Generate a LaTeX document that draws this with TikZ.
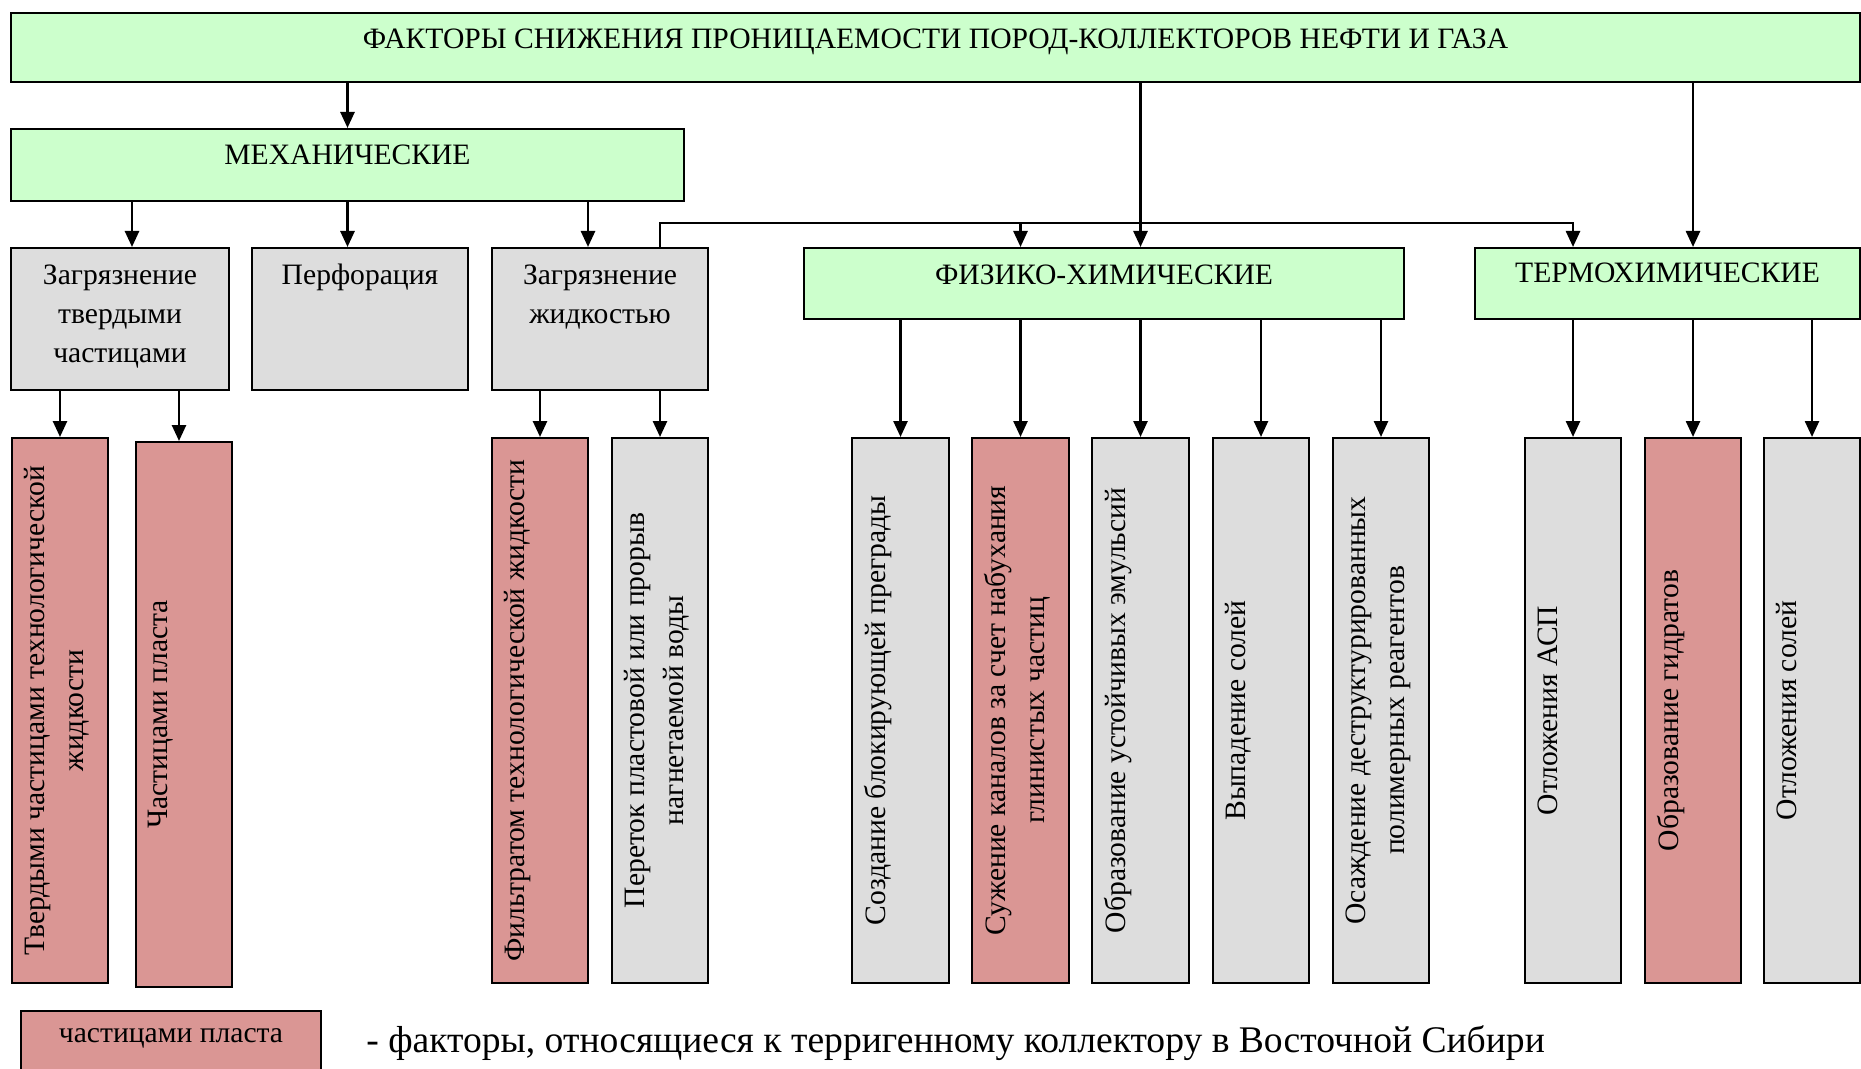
\documentclass[tikz,border=0pt]{standalone}
\usepackage{fontspec}
\setmainfont{Liberation Serif}
\usetikzlibrary{arrows.meta}
\definecolor{grn}{HTML}{CCFFCC}
\definecolor{gry}{HTML}{DDDDDD}
\definecolor{pnk}{HTML}{DA9694}
\tikzset{
  bx/.style={draw=black, line width=1pt, inner sep=0pt},
  gbox/.style={bx, fill=grn},
  ybox/.style={bx, fill=gry},
  rbox/.style={bx, fill=pnk},
  txt/.style={inner sep=0pt, align=center, font=\fontsize{14.8}{19.6}\selectfont},
  vtxt/.style={txt, rotate=90, anchor=north},
  htxt/.style={txt, anchor=north},
  arr/.style={line width=1.3pt, -{Triangle[width=7pt,length=8pt]}},
}
\newcommand\mkbox[6]{\node[#6, anchor=north west, minimum width={(#4-#2)*0.5pt}, minimum height={(#5-#3)*0.5pt}] (#1) at (#2,#3) {};}
\begin{document}
\begin{tikzpicture}[x=0.5pt, y=-0.5pt]
\useasboundingbox (0,0) rectangle (1861,1069);
\fill[white] (0,0) rectangle (1861,1069);
% boxes
\mkbox{top}{10}{12}{1859}{81}{gbox}
\mkbox{mech}{10}{128}{683}{200}{gbox}
\mkbox{zag1}{10}{247}{228}{389}{ybox}
\mkbox{perf}{251}{247}{467}{389}{ybox}
\mkbox{zag2}{491}{247}{707}{389}{ybox}
\mkbox{phys}{803}{247}{1403}{318}{gbox}
\mkbox{termo}{1474}{247}{1859}{318}{gbox}
\mkbox{b1}{11}{437}{107}{982}{rbox}
\mkbox{b2}{135}{441}{231}{986}{rbox}
\mkbox{b3}{491}{437}{587}{982}{rbox}
\mkbox{b4}{611}{437}{707}{982}{ybox}
\mkbox{p1}{851}{437}{948}{982}{ybox}
\mkbox{p2}{971}{437}{1068}{982}{rbox}
\mkbox{p3}{1091}{437}{1188}{982}{ybox}
\mkbox{p4}{1212}{437}{1308}{982}{ybox}
\mkbox{p5}{1332}{437}{1428}{982}{ybox}
\mkbox{t1}{1524}{437}{1620}{982}{ybox}
\mkbox{t2}{1644}{437}{1740}{982}{rbox}
\mkbox{t3}{1763}{437}{1859}{982}{ybox}
\mkbox{leg}{20}{1010}{320}{1090}{rbox}
% horizontal texts
\node[htxt] (topt) at ([yshift=-8pt]top.north) {ФАКТОРЫ СНИЖЕНИЯ ПРОНИЦАЕМОСТИ ПОРОД-КОЛЛЕКТОРОВ НЕФТИ И ГАЗА};
\node[htxt] (mecht) at ([yshift=-8.5pt]mech.north) {МЕХАНИЧЕСКИЕ};
\node[htxt] (physt) at ([yshift=-8.5pt]phys.north) {ФИЗИКО-ХИМИЧЕСКИЕ};
\node[htxt] (termot) at ([yshift=-8pt]termo.north) {ТЕРМОХИМИЧЕСКИЕ};
\node[htxt] (zag1t) at ([yshift=-8.5pt]zag1.north) {Загрязнение\\твердыми\\частицами};
\node[htxt] (perft) at ([yshift=-8.5pt]perf.north) {Перфорация};
\node[htxt] (zag2t) at ([yshift=-8.5pt]zag2.north) {Загрязнение\\жидкостью};
% vertical texts
\node[vtxt] (b1t) at ([xshift=6.5pt]b1.west) {Твердыми частицами технологической\\жидкости};
\node[vtxt] (b2t) at ([xshift=6.5pt]b2.west) {Частицами пласта};
\node[vtxt] (b3t) at ([xshift=6.5pt]b3.west) {Фильтратом технологической жидкости};
\node[vtxt] (b4t) at ([xshift=6.5pt]b4.west) {Переток пластовой или прорыв\\нагнетаемой воды};
\node[vtxt] (p1t) at ([xshift=6.5pt]p1.west) {Создание блокирующей преграды};
\node[vtxt] (p2t) at ([xshift=6.5pt]p2.west) {Сужение каналов за счет набухания\\глинистых частиц};
\node[vtxt] (p3t) at ([xshift=6.5pt]p3.west) {Образование устойчивых эмульсий};
\node[vtxt] (p4t) at ([xshift=6.5pt]p4.west) {Выпадение солей};
\node[vtxt] (p5t) at ([xshift=6.5pt]p5.west) {Осаждение деструктурированных\\полимерных реагентов};
\node[vtxt] (t1t) at ([xshift=6.5pt]t1.west) {Отложения АСП};
\node[vtxt] (t2t) at ([xshift=6.5pt]t2.west) {Образование гидратов};
\node[vtxt] (t3t) at ([xshift=6.5pt]t3.west) {Отложения солей};
% legend
\node[txt, anchor=base] (legt) at ([yshift=-16pt]leg.north) {частицами пласта};
\node[inner sep=0pt, anchor=base west, font=\fontsize{18.8}{23}\selectfont] (legd) at (366,1052) {- факторы, относящиеся к терригенному коллектору в Восточной Сибири};
% helper coordinates
\coordinate (xz1) at (132,0);
\coordinate (xz2) at (588,0);
\coordinate (xb2) at (179,0);
\coordinate (bus) at (0,223);
% connectors
\draw[arr] (top.south -| mech.north) -- (mech.north);
\draw[arr] (top.south -| p3.north) -- (phys.north -| p3.north);
\draw[arr] (top.south -| t2.north) -- (termo.north -| t2.north);
\draw[arr] (mech.south -| xz1) -- (zag1.north -| xz1);
\draw[arr] (mech.south) -- (perf.north -| mech.south);
\draw[arr] (mech.south -| xz2) -- (zag2.north -| xz2);
\draw[arr] (zag2.north -| b4.north) |- (bus -| t1.north) -- (termo.north -| t1.north);
\draw[arr] (bus -| p2.north) -- (phys.north -| p2.north);
\draw[arr] (zag1.south -| b1.north) -- (b1.north);
\draw[arr] (zag1.south -| xb2) -- (b2.north -| xb2);
\draw[arr] (zag2.south -| b3.north) -- (b3.north);
\draw[arr] (zag2.south -| b4.north) -- (b4.north);
\foreach \n in {p1,p2,p3,p4,p5} \draw[arr] (phys.south -| \n.north) -- (\n.north);
\foreach \n in {t1,t2,t3} \draw[arr] (termo.south -| \n.north) -- (\n.north);
\end{tikzpicture}
\end{document}
